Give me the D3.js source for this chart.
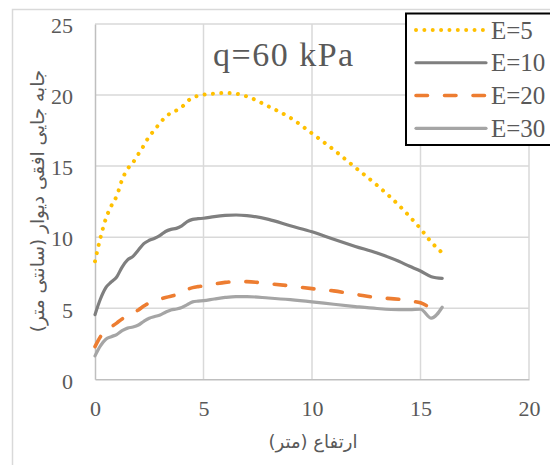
<!DOCTYPE html>
<html>
<head>
<meta charset="utf-8">
<script src="https://cdn.jsdelivr.net/npm/d3@7"></script>
<style>
  html, body { margin: 0; padding: 0; background: #fff; }
  svg { display: block; }
</style>
</head>
<body>
<svg id="chart" width="550" height="465"></svg>
<script>
// Wall height (m) at which displacement was sampled
const heights = [0, 0.25, 0.5, 0.75, 1, 1.25, 1.5, 1.75, 2, 2.25, 2.5, 2.75, 3, 3.25, 3.5, 3.75,
  4, 4.25, 4.5, 4.75, 5, 5.5, 6, 6.5, 7, 8, 9, 10, 11, 12, 13, 14, 14.5, 15, 15.5, 16];

// Horizontal wall displacement (cm) for each soil modulus E
const dispE5 = [8.3, 9.95, 11.3, 12.2, 12.9, 14.05, 14.8, 15.25, 15.85, 16.45, 17.1, 17.55, 18.05, 18.45, 18.75, 18.92,
  19.15, 19.55, 19.82, 19.95, 20.03, 20.1, 20.15, 20.1, 19.9, 19.2, 18.4, 17.3, 16.15, 14.9, 13.65, 12.25, 11.45, 10.6, 9.65, 8.9];
const dispE10 = [4.55, 5.65, 6.45, 6.85, 7.2, 7.9, 8.4, 8.65, 9.1, 9.55, 9.78, 9.92, 10.12, 10.4, 10.55, 10.62,
  10.8, 11.1, 11.25, 11.3, 11.33, 11.45, 11.53, 11.56, 11.52, 11.25, 10.8, 10.38, 9.85, 9.35, 8.88, 8.3, 7.95, 7.62, 7.22, 7.1];
const dispE20 = [2.3, 3.0, 3.45, 3.7, 3.95, 4.25, 4.45, 4.65, 4.88, 5.15, 5.38, 5.55, 5.65, 5.75, 5.85, 5.95,
  6.1, 6.32, 6.45, 6.52, 6.57, 6.7, 6.82, 6.87, 6.87, 6.73, 6.57, 6.38, 6.22, 5.98, 5.74, 5.63, 5.5, 5.38, 4.97, null];
const dispE30 = [1.65, 2.35, 2.82, 3.0, 3.15, 3.42, 3.6, 3.68, 3.82, 4.08, 4.3, 4.42, 4.53, 4.72, 4.88, 4.95,
  5.05, 5.25, 5.45, 5.5, 5.53, 5.65, 5.76, 5.82, 5.82, 5.72, 5.6, 5.45, 5.28, 5.12, 4.98, 4.9, 4.9, 4.93, 4.3, 5.07];

const seriesNames = ["E=5", "E=10", "E=20", "E=30"];
const seriesValues = [dispE5, dispE10, dispE20, dispE30];

const xTicks = [0, 5, 10, 15, 20];
const yTicks = [0, 5, 10, 15, 20, 25];

const chartTitle = "q=60 kPa";
const xTitle = "ارتفاع (متر)";
const yTitle = "جابه جایی افقی دیوار (سانتی متر)";

const SERIF = '"Liberation Serif", serif';
const ARABIC = '"DejaVu Sans", sans-serif';
const TEXT_COLOR = "#595959";

// Line styles per series
const styles = [
  { color: "#FFC000", width: 4,   dash: "0.01 8.35", cap: "round" },
  { color: "#7F7F7F", width: 3.2, dash: null,        cap: "round" },
  { color: "#ED7D31", width: 3.6, dash: "11.5 17",   cap: "round" },
  { color: "#A5A5A5", width: 3.2, dash: null,        cap: "round" }
];

const svg = d3.select("#chart");

// Outer chart frame
svg.append("rect")
  .attr("x", 12.5).attr("y", 9.5)
  .attr("width", 560).attr("height", 480)
  .attr("fill", "#fff").attr("stroke", "#d9d9d9").attr("stroke-width", 1.5);

const x = d3.scaleLinear().domain([0, 20]).range([95, 529]);
const y = d3.scaleLinear().domain([0, 25]).range([379.3, 24]);

// Gridlines
const grid = svg.append("g");
grid.selectAll("line.h").data(yTicks.filter(t => t > 0)).join("line")
  .attr("x1", x(0)).attr("x2", x(20))
  .attr("y1", d => y(d)).attr("y2", d => y(d))
  .attr("stroke", "#d9d9d9").attr("stroke-width", 1.5);
grid.selectAll("line.v").data(xTicks.filter(t => t > 0)).join("line")
  .attr("x1", d => x(d)).attr("x2", d => x(d))
  .attr("y1", y(0)).attr("y2", y(25))
  .attr("stroke", "#d9d9d9").attr("stroke-width", 1.5);

// Axes
const xAxis = svg.append("g")
  .attr("transform", `translate(0,${y(0)})`)
  .call(d3.axisBottom(x).tickValues(xTicks).tickSize(0).tickPadding(21));
xAxis.attr("font-family", null).attr("font-size", null);
xAxis.select(".domain").attr("stroke", "#bfbfbf").attr("stroke-width", 1.5);
xAxis.selectAll("text").attr("fill", TEXT_COLOR)
  .style("font-family", SERIF).style("font-size", "22px");

const yAxis = svg.append("g")
  .attr("transform", `translate(${x(0)},0)`)
  .call(d3.axisLeft(y).tickValues(yTicks).tickSize(0).tickPadding(22));
yAxis.attr("font-family", null).attr("font-size", null);
yAxis.select(".domain").attr("stroke", "#bfbfbf").attr("stroke-width", 1.5);
yAxis.selectAll("text").attr("fill", TEXT_COLOR).attr("dy", "0.4em")
  .style("font-family", SERIF).style("font-size", "22px");

// Series lines
const line = d3.line()
  .defined(d => d[1] != null)
  .x(d => x(d[0])).y(d => y(d[1]))
  .curve(d3.curveMonotoneX);

[3, 2, 1, 0].forEach(i => {
  const pts = heights.map((h, k) => [h, seriesValues[i][k]]);
  const s = styles[i];
  svg.append("path")
    .datum(pts)
    .attr("d", line)
    .attr("fill", "none")
    .attr("stroke", s.color)
    .attr("stroke-width", s.width)
    .attr("stroke-linecap", s.cap)
    .attr("stroke-linejoin", "round")
    .attr("stroke-dasharray", s.dash);
});

// Title inside the plot
svg.append("text")
  .attr("x", 213).attr("y", 66)
  .attr("fill", TEXT_COLOR)
  .style("font-family", SERIF)
  .style("font-size", "34px")
  .attr("letter-spacing", 1.5)
  .text(chartTitle);

// Axis titles
svg.append("text")
  .attr("x", 313).attr("y", 448)
  .attr("text-anchor", "middle")
  .attr("fill", TEXT_COLOR)
  .style("font-family", ARABIC)
  .style("font-size", "18px")
  .attr("direction", "rtl")
  .text(xTitle);

svg.append("text")
  .attr("transform", "translate(44,201) rotate(-90)")
  .attr("text-anchor", "middle")
  .attr("fill", TEXT_COLOR)
  .style("font-family", ARABIC)
  .style("font-size", "18.5px")
  .attr("direction", "rtl")
  .text(yTitle);

// Legend
const legend = svg.append("g");
legend.append("rect")
  .attr("x", 406).attr("y", 13.5)
  .attr("width", 160).attr("height", 131.5)
  .attr("fill", "#fff").attr("stroke", "#000").attr("stroke-width", 2);

const rowY = d3.scalePoint().domain(seriesNames).range([30, 128.3]);
seriesNames.forEach((name, i) => {
  const s = styles[i];
  const yy = rowY(name);
  legend.append("line")
    .attr("x1", 416).attr("x2", 486)
    .attr("y1", yy).attr("y2", yy)
    .attr("stroke", s.color)
    .attr("stroke-width", s.width)
    .attr("stroke-linecap", s.cap)
    .attr("stroke-dasharray", s.dash);
  legend.append("text")
    .attr("x", 491).attr("y", yy)
    .attr("dy", "0.34em")
    .attr("fill", TEXT_COLOR)
    .style("font-family", SERIF)
    .style("font-size", "25px")
    .text(name);
});
</script>
</body>
</html>
